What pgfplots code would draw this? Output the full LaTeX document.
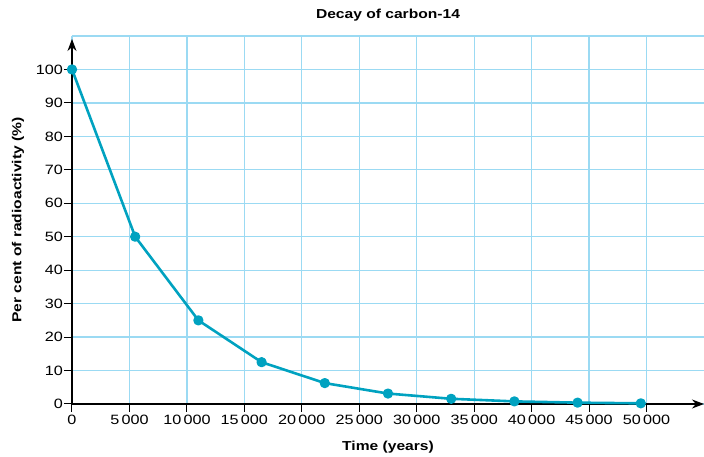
\documentclass[border=0pt]{standalone}
\usepackage{fontspec}
\setmainfont{Liberation Sans}[FakeStretch=1.2]
\usepackage{pgfplots}
\pgfplotsset{compat=1.18}
\usetikzlibrary{arrows.meta}

\definecolor{gridblue}{RGB}{155,218,243}
\definecolor{decay}{RGB}{0,162,192}

\begin{document}
\begin{tikzpicture}
\begin{axis}[
    scale only axis,
    width=632pt, height=368pt,
    xmin=0, xmax=55000,
    ymin=0, ymax=110,
    axis x line=bottom,
    axis y line=left,
    x axis line style={line width=1.2pt, -{Stealth[length=12pt,width=9pt]}},
    y axis line style={line width=1.2pt, shorten >=3pt, -{Stealth[length=12pt,width=9pt]}},
    xtick={0,5000,...,50000},
    ytick={0,10,...,100},
    scaled x ticks=false,
    extra y ticks={110},
    extra y tick labels={},
    extra y tick style={major tick length=0pt},
    tick align=outside,
    major tick length=8pt,
    tick style={black, line width=1pt},
    grid=major,
    major grid style={gridblue, line width=1.3pt},
    /pgf/number format/1000 sep={\,},
    /pgf/number format/assume math mode=true,
    ticklabel style={font=\fontsize{13.5}{15}\selectfont},
    yticklabel style={inner xsep=1pt},
    title={Decay of carbon-14},
    title style={font=\bfseries\fontsize{13}{15}\selectfont,
        at={(rel axis cs:0.5,1)}, anchor=center, yshift=15pt},
    xlabel={Time (years)},
    xlabel style={font=\bfseries\fontsize{13}{15}\selectfont,
        at={(rel axis cs:0.5,0)}, anchor=center, yshift=-43pt},
    ylabel={Per cent of radioactivity (\%)},
    ylabel style={font=\bfseries\fontsize{13}{15}\selectfont,
        at={(rel axis cs:0,0.5)}, anchor=center, yshift=54pt},
    clip=false,
]
\addplot [decay, line width=2.6pt, line join=round,
    mark=*, mark size=3.8pt, mark options={fill=decay, draw=decay}]
    coordinates {
    (0,100) (5500,50) (11000,25) (16500,12.5) (22000,6.25)
    (27500,3.125) (33000,1.56) (38500,0.78) (44000,0.4) (49500,0.2)
};
\coordinate (O) at (rel axis cs:0,0);
\end{axis}
\pgfresetboundingbox
\path (O) ++(-72pt,-53pt) rectangle ++(704pt,457pt);
\end{tikzpicture}
\end{document}
